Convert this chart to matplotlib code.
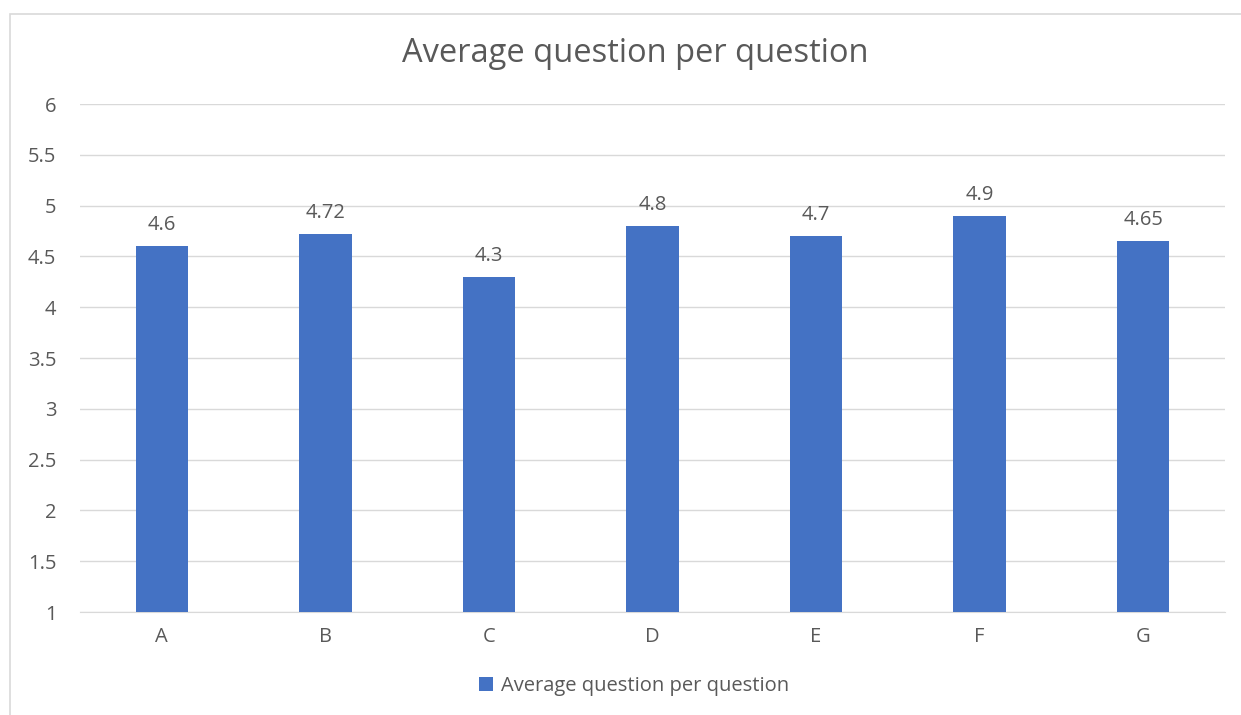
import matplotlib.pyplot as plt
from matplotlib.patches import Rectangle

categories = ["A", "B", "C", "D", "E", "F", "G"]
values = [4.6, 4.72, 4.3, 4.8, 4.7, 4.9, 4.65]
value_labels = ["4.6", "4.72", "4.3", "4.8", "4.7", "4.9", "4.65"]
y_ticks = [1, 1.5, 2, 2.5, 3, 3.5, 4, 4.5, 5, 5.5, 6]
y_tick_labels = ["1", "1.5", "2", "2.5", "3", "3.5", "4", "4.5", "5", "5.5", "6"]
series_name = "Average question per question"

plt.rcParams['font.family'] = ['Open Sans', 'DejaVu Sans']
text_color = '#595959'
bar_color = '#4472C4'
grid_color = '#D9D9D9'

fig = plt.figure(figsize=(12.41, 7.15), dpi=100)
fig.patch.set_facecolor('white')

# chart frame (cropped on the right and bottom)
fig.patches.append(Rectangle((10 / 1241, -0.05), 1.2, 1 - 14 / 715 + 0.05,
                             transform=fig.transFigure, fill=False,
                             edgecolor='#D9D9D9', linewidth=1.2))

ax = fig.add_axes([80 / 1241, 1 - 612 / 715, (1225 - 80) / 1241, (612 - 104) / 715])
x = range(len(categories))
bars = ax.bar(x, [v - 1 for v in values], bottom=1, width=0.32,
              color=bar_color, label=series_name, zorder=3)

for xi, v, lab in zip(x, values, value_labels):
    ax.annotate(lab, (xi, v), xytext=(0, 8), textcoords='offset points',
                ha='center', va='bottom', fontsize=14.5, color=text_color)

ax.set_xlim(-0.5, len(categories) - 0.5)
ax.set_ylim(1, 6)
ax.set_yticks(y_ticks)
ax.set_yticklabels(y_tick_labels)
ax.set_xticks(list(x))
ax.set_xticklabels(categories)
ax.tick_params(axis='both', length=0, labelsize=14.5, labelcolor=text_color)
ax.tick_params(axis='y', pad=17)
ax.tick_params(axis='x', pad=11)
ax.grid(axis='y', color=grid_color, linewidth=1, zorder=0)
for side in ['top', 'right', 'left']:
    ax.spines[side].set_visible(False)
ax.spines['bottom'].set_color(grid_color)

fig.text(0.512, 1 - 53 / 715, "Average question per question", ha='center', va='center',
         fontsize=23.5, color=text_color)

fig.legend(loc='center', bbox_to_anchor=(0.511, 1 - 686 / 715), frameon=False,
           fontsize=14.5, labelcolor=text_color, handlelength=0.7, handleheight=0.7,
           handletextpad=0.4)

fig.savefig("out.png", dpi=100)
